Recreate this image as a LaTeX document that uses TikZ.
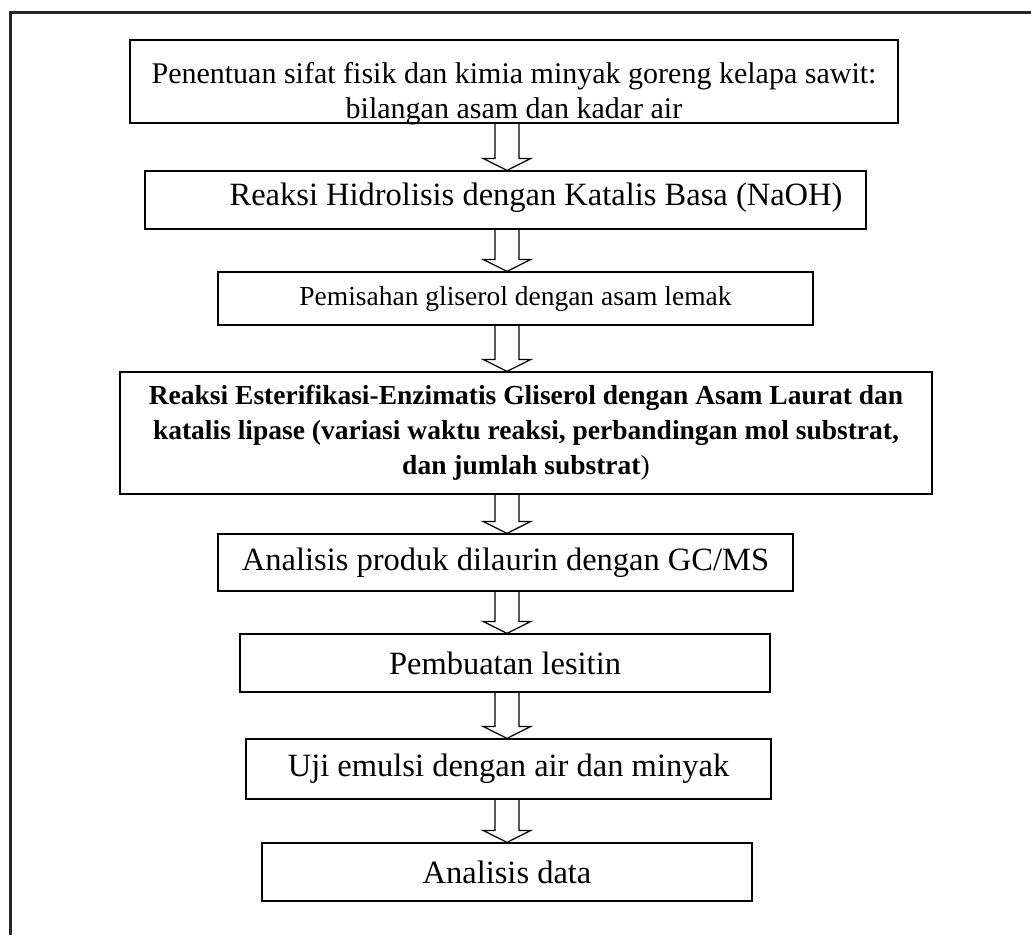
\documentclass[tikz,border=0pt]{standalone}
\usepackage{fontspec}
\setmainfont{Liberation Serif}
\usetikzlibrary{positioning}
\tikzset{
  kotak/.style={draw, line width=0.5pt, inner sep=0pt, align=center, font=\fontsize{13}{15}\selectfont},
  teks/.style={inner sep=0pt, align=center, font=\fontsize{12}{14}\selectfont},
  panah/.style={line width=0.5pt},
  bingkai/.style={line width=1.2pt, draw=black!85},
}
\begin{document}
\begin{tikzpicture}[x=0.4pt, y=-0.4pt]
    % Bingkai
    \useasboundingbox (0,0) rectangle (1031,935);
    \draw[bingkai] (10,935) -- (10,12) -- (1031,12);
    % Kotak
    \node[kotak, minimum width=307.2pt, minimum height=33.2pt] (b1) at (514,81.5) {};
    \node[teks] (t1) at (514,94)
        {Penentuan sifat fisik dan kimia minyak goreng kelapa sawit:\\ bilangan asam dan kadar air};
    \node[kotak, minimum width=288.4pt, minimum height=23.2pt] (b2) at (505.5,200) {};
    \node[teks, font=\fontsize{13}{15}\selectfont] (t2) at (536,198)
        {Reaksi Hidrolisis dengan Katalis Basa (NaOH)};
    \node[kotak, minimum width=238pt, minimum height=21.2pt, font=\fontsize{11}{13}\selectfont] (b3) at (515.5,298.5)
        {Pemisahan gliserol dengan asam lemak};
    \node[kotak, minimum width=324.8pt, minimum height=48.8pt, font=\fontsize{11}{14}\selectfont\bfseries] (b4) at (526,433)
        {Reaksi Esterifikasi-Enzimatis Gliserol dengan Asam Laurat dan\\
         katalis lipase (variasi waktu reaksi, perbandingan mol substrat,\\
         dan jumlah substrat{\mdseries)}};
    \node[kotak, minimum width=230pt, minimum height=22.8pt] (b5) at (505.5,562.5)
        {Analisis produk dilaurin dengan GC/MS};
    \node[kotak, minimum width=212pt, minimum height=23.2pt] (b6) at (505,663)
        {Pembuatan lesitin};
    \node[kotak, minimum width=210pt, minimum height=24pt] (b7) at (508.5,769)
        {Uji emulsi dengan air dan minyak};
    \node[kotak, minimum width=196pt, minimum height=23.2pt] (b8) at (507,872)
        {Analisis data};
    % Panah
    \coordinate (ax) at (507,0);
    \foreach \a/\b in {b1/b2, b2/b3, b3/b4, b4/b5, b5/b6, b6/b7, b7/b8} {
        \coordinate (s) at (\a.south -| ax);
        \coordinate (t) at (\b.north -| ax);
        \draw[panah] ([xshift=-4.8pt]s) -- ([xshift=-4.8pt,yshift=4.8pt]t) -- ([xshift=-9.6pt,yshift=4.8pt]t)
            -- (t) -- ([xshift=9.6pt,yshift=4.8pt]t) -- ([xshift=4.8pt,yshift=4.8pt]t) -- ([xshift=4.8pt]s);
    }
\end{tikzpicture}
\end{document}
